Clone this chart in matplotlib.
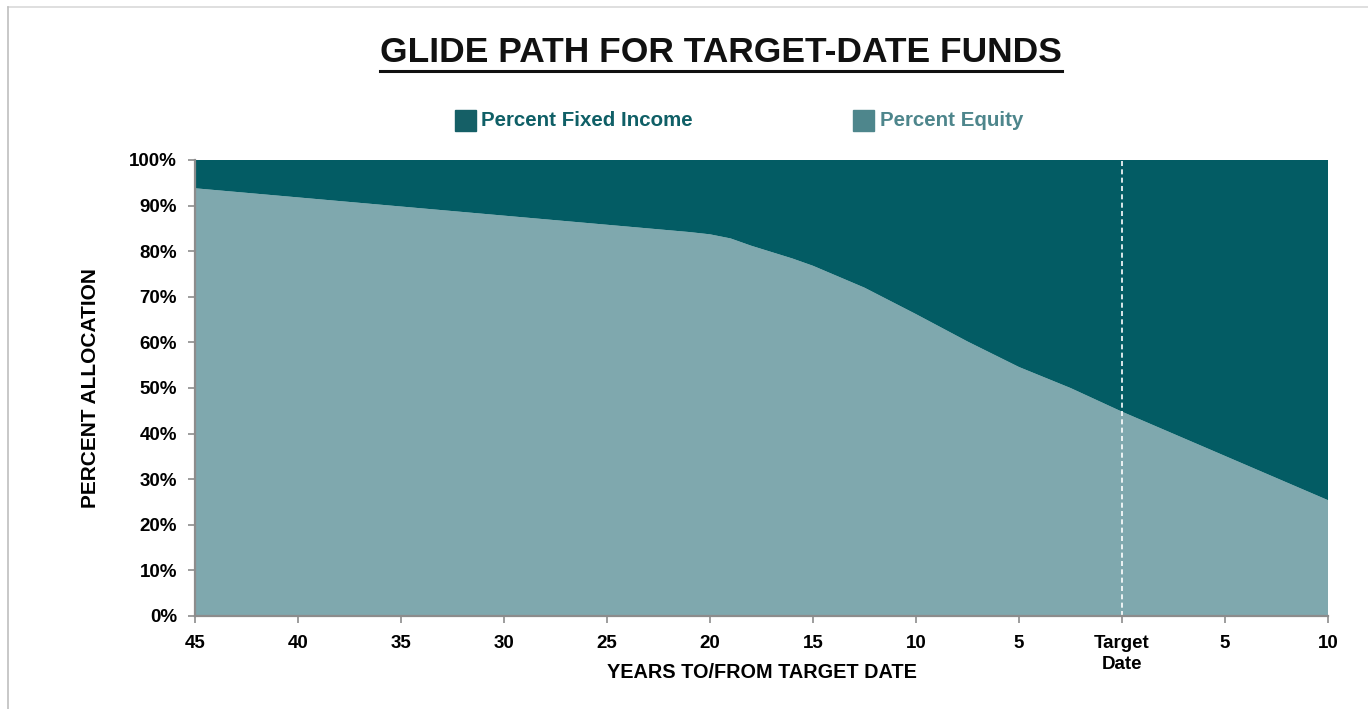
import numpy as np
import matplotlib.pyplot as plt
from matplotlib.lines import Line2D
from matplotlib.patches import Rectangle

plt.rcParams["font.family"] = ["Liberation Sans", "DejaVu Sans"]
plt.rcParams["font.weight"] = "bold"

# years relative to target date (negative = before)
years = [-45, -40, -35, -30, -25, -21, -20, -19, -18, -16, -15, -12.5, -10, -7.5, -5, -2.5, 0, 5, 10]
equity = [93.8, 91.8, 89.8, 87.8, 85.8, 84.2, 83.7, 82.8, 81.2, 78.4, 76.8, 72.0, 66.2, 60.2, 54.6, 50.0, 44.8, 35.1, 25.4]
fixed_income = [100 - e for e in equity]

tick_pos = [-45, -40, -35, -30, -25, -20, -15, -10, -5, 0, 5, 10]
tick_lbl = ["45", "40", "35", "30", "25", "20", "15", "10", "5", "Target\nDate", "5", "10"]

dark = "#035C64"
light = "#7FA8AE"
grey = "#8C8C8C"

fig = plt.figure(figsize=(13.68, 7.09), dpi=100)
ax = fig.add_axes([195 / 1368, 1 - 616 / 709, 1133 / 1368, 456 / 709])

ax.stackplot(years, equity, fixed_income, colors=[light, dark], linewidth=0)
ax.axvline(0, color="white", linestyle=(0, (3, 2)), linewidth=1.2)

ax.set_xlim(-45, 10)
ax.set_ylim(0, 100)
ax.set_xticks(tick_pos)
ax.set_xticklabels(tick_lbl, fontsize=13.5, fontweight="bold", linespacing=1.3)
ax.set_yticks(np.arange(0, 101, 10))
ax.set_yticklabels([f"{v}%" for v in range(0, 101, 10)], fontsize=13.5, fontweight="bold")
ax.tick_params(axis="both", colors=grey, labelcolor="black", length=5, width=1.2)
ax.tick_params(axis="y", pad=8)
ax.tick_params(axis="x", pad=9)
for s in ["top", "right"]:
    ax.spines[s].set_visible(False)
for s in ["left", "bottom"]:
    ax.spines[s].set_color(grey)
    ax.spines[s].set_linewidth(1.6)

ax.set_ylabel("PERCENT ALLOCATION", fontsize=15, fontweight="bold", labelpad=21)
ax.set_xlabel("YEARS TO/FROM TARGET DATE", fontsize=14.3, fontweight="bold")
ax.xaxis.set_label_coords(0.5, -0.103)

# title, underlined
t = fig.text(721 / 1368, 1 - 52 / 709, "GLIDE PATH FOR TARGET-DATE FUNDS",
             ha="center", va="center", fontsize=25.5, fontweight="bold", color="#111111")
fig.canvas.draw()
bb = t.get_window_extent().transformed(fig.transFigure.inverted())
fig.add_artist(Line2D([bb.x0, bb.x1], [bb.y0 - 0.004, bb.y0 - 0.004],
                      color="#111111", linewidth=2.2, transform=fig.transFigure))

# legend
fig.add_artist(Rectangle((455 / 1368, 1 - 131 / 709), 21 / 1368, 21 / 709,
                         transform=fig.transFigure, color="#155F66"))
fig.text(481 / 1368, 1 - 121 / 709, "Percent Fixed Income", ha="left", va="center",
         fontsize=14.8, fontweight="bold", color="#0F5F66")
fig.add_artist(Rectangle((853 / 1368, 1 - 131 / 709), 21 / 1368, 21 / 709,
                         transform=fig.transFigure, color="#4E868C"))
fig.text(880 / 1368, 1 - 121 / 709, "Percent Equity", ha="left", va="center",
         fontsize=14.8, fontweight="bold", color="#4E868C")

# outer frame lines (top and left)
fig.add_artist(Line2D([8 / 1368, 1], [1 - 7 / 709, 1 - 7 / 709], color="#D9D9D9",
                      linewidth=1.2, transform=fig.transFigure))
fig.add_artist(Line2D([8 / 1368, 8 / 1368], [0, 1 - 7 / 709], color="#BFBFBF",
                      linewidth=1.2, transform=fig.transFigure))

fig.savefig("out.png", dpi=100)
